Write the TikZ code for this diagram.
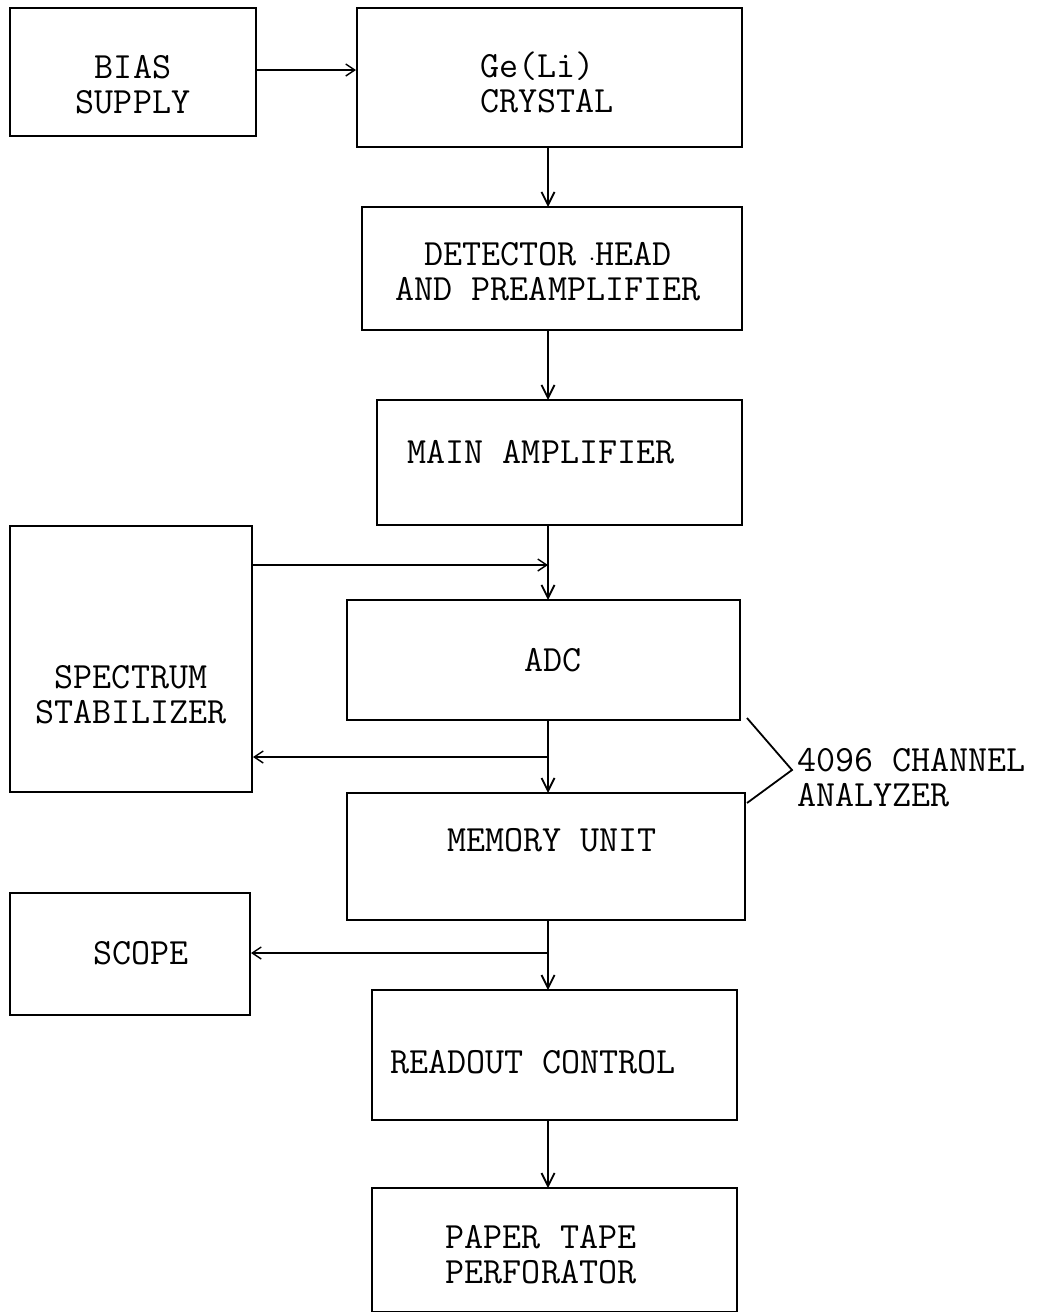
\documentclass[tikz,border=0pt]{standalone}
\usetikzlibrary{arrows.meta}
\begin{document}
\begin{tikzpicture}[x=1pt,y=-1pt,
  blk/.style={draw,line width=2pt,inner sep=0pt},
  lbl/.style={font=\ttfamily\fontsize{37}{35}\selectfont,align=center,inner sep=0pt},
  flow/.style={line width=2pt,-{Straight Barb[length=13pt,width=13pt,line width=1.8pt]}},
  thin/.style={line width=1.5pt,-{Straight Barb[length=9pt,width=12pt,line width=1.4pt]}},
  plain/.style={line width=1.8pt}]
\useasboundingbox (0,0) rectangle (1038,1312);
% boxes
\node[blk,minimum width=246pt,minimum height=128pt] (bias) at (133,72) {};
\node[blk,minimum width=385pt,minimum height=139pt] (crys) at (549.5,77.5) {};
\node[blk,minimum width=380pt,minimum height=123pt] (det) at (552,268.5) {};
\node[blk,minimum width=365pt,minimum height=125pt] (amp) at (559.5,462.5) {};
\node[blk,minimum width=242pt,minimum height=266pt] (stab) at (131,659) {};
\node[blk,minimum width=393pt,minimum height=120pt] (adc) at (543.5,660) {};
\node[blk,minimum width=398pt,minimum height=127pt] (mem) at (546,856.5) {};
\node[blk,minimum width=240pt,minimum height=122pt] (scope) at (130,954) {};
\node[blk,minimum width=365pt,minimum height=130pt] (read) at (554.5,1055) {};
\node[blk,minimum width=365pt,minimum height=124pt] (tape) at (554.5,1250) {};
% texts
\node[lbl] (biasT) at (133,85) {BIAS\\SUPPLY};
\node[lbl,align=left] (crysT) at (547,82) {Ge(Li)\\CRYSTAL};
\node[lbl] (detT) at (548,272) {DETECTOR \llap{$\cdot$}HEAD\\AND PREAMPLIFIER};
\node[lbl] (ampT) at (541,452) {MAIN AMPLIFIER};
\node[lbl] (stabT) at (131,695) {SPECTRUM\\STABILIZER};
\node[lbl] (adcT) at (553,660) {ADC};
\node[lbl] (memT) at (552,840) {MEMORY UNIT};
\node[lbl] (scopeT) at (141,953) {SCOPE};
\node[lbl] (readT) at (533,1062) {READOUT CONTROL};
\node[lbl] (tapeT) at (541,1255) {PAPER TAPE\\PERFORATOR};
\node[lbl,align=left,anchor=west] (anaT) at (797,778) {4096 CHANNEL\\ANALYZER};
% junction coordinates
\coordinate (j1) at (548,565);
\coordinate (j2) at (548,757);
\coordinate (j3) at (548,953);
\coordinate (b1) at (747,718);
\coordinate (b2) at (792,770);
\coordinate (b3) at (747,803);
% connectors
\draw[thin] (bias.east |- 0,70) -- (crys.west |- 0,70);
\draw[flow] (548,147) -- (548,207);
\draw[flow] (548,330) -- (548,400);
\draw[flow] (548,525) -- (548,600);
\draw[thin] (stab.east |- j1) -- (j1);
\draw[flow] (548,720) -- (548,793);
\draw[thin] (j2) -- (stab.east |- j2);
\draw[flow] (548,920) -- (548,990);
\draw[thin] (j3) -- (scope.east |- j3);
\draw[flow] (548,1120) -- (548,1188);
\draw[plain] (b1) -- (b2) -- (b3);
\end{tikzpicture}
\end{document}
